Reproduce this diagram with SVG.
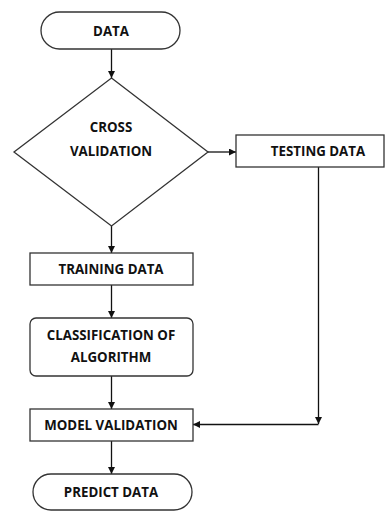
<svg xmlns="http://www.w3.org/2000/svg" width="387" height="511" viewBox="0 0 387 511">
<style>
.s{fill:#fff;stroke:#333;stroke-width:1.3}
.t{font-family:"Open Sans","Liberation Sans",sans-serif;font-weight:bold;font-size:13.3px;fill:#111;text-anchor:middle;dominant-baseline:central}
.c{fill:none;stroke:#111;stroke-width:1.3}
</style>
<defs>
<marker id="a" viewBox="0 0 10 10" refX="10" refY="5" markerWidth="7" markerHeight="7" markerUnits="userSpaceOnUse" orient="auto"><path d="M0,0 L10,5 L0,10 z" fill="#111"/></marker>
</defs>
<rect width="387" height="511" fill="#fff"/>
<g id="connectors">
<line class="c" x1="111.5" y1="49" x2="111.5" y2="78" marker-end="url(#a)"/>
<line class="c" x1="208" y1="152" x2="236" y2="152" marker-end="url(#a)"/>
<line class="c" x1="111.5" y1="226" x2="111.5" y2="253" marker-end="url(#a)"/>
<line class="c" x1="111.5" y1="285" x2="111.5" y2="318" marker-end="url(#a)"/>
<line class="c" x1="111.5" y1="376" x2="111.5" y2="409" marker-end="url(#a)"/>
<line class="c" x1="111.5" y1="441" x2="111.5" y2="474" marker-end="url(#a)"/>
<line class="c" x1="318.5" y1="167" x2="318.5" y2="424" marker-end="url(#a)"/>
<line class="c" x1="318.5" y1="424.5" x2="193" y2="424.5" marker-end="url(#a)"/>
</g>
<g id="data">
<rect class="s" x="41" y="12" width="139" height="37" rx="18.5"/>
<text class="t" x="111" y="30.5">DATA</text>
</g>
<g id="cross-validation">
<polygon class="s" points="111.5,78 208,152 111.5,226 14,152"/>
<text class="t" x="111" y="127">CROSS</text>
<text class="t" x="111" y="151">VALIDATION</text>
</g>
<g id="testing-data">
<rect class="s" x="236" y="135" width="148" height="32"/>
<text class="t" x="318" y="151">TESTING DATA</text>
</g>
<g id="training-data">
<rect class="s" x="30" y="253" width="163" height="32"/>
<text class="t" x="111" y="269">TRAINING DATA</text>
</g>
<g id="classification">
<rect class="s" x="30" y="318" width="163" height="58" rx="6"/>
<text class="t" x="111" y="335">CLASSIFICATION OF</text>
<text class="t" x="111" y="357">ALGORITHM</text>
</g>
<g id="model-validation">
<rect class="s" x="30" y="409" width="163" height="32"/>
<text class="t" x="111" y="424.5">MODEL VALIDATION</text>
</g>
<g id="predict-data">
<rect class="s" x="33" y="474" width="159" height="36" rx="18"/>
<text class="t" x="111" y="492">PREDICT DATA</text>
</g>
</svg>
